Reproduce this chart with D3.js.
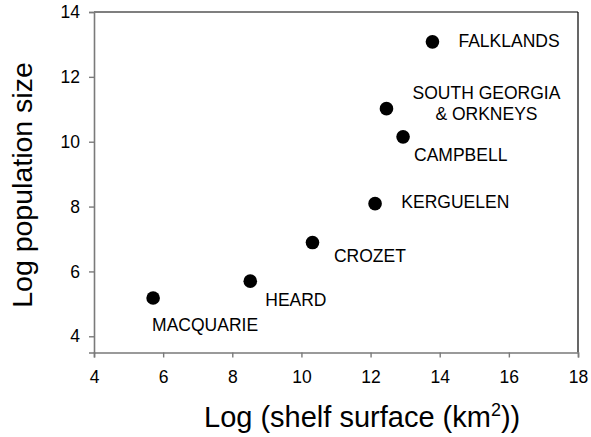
<!DOCTYPE html>
<html>
<head>
<meta charset="utf-8">
<script src="https://cdn.jsdelivr.net/npm/d3@7"></script>
<style>
  html, body { margin: 0; padding: 0; background: #fff; }
  svg { display: block; font-family: "Liberation Sans", Arial, sans-serif; }
</style>
</head>
<body>
<svg id="chart" width="591" height="437"></svg>
<script>
// ---- data ----
const sites = ["MACQUARIE", "HEARD", "CROZET", "KERGUELEN", "CAMPBELL", "SOUTH GEORGIA\n& ORKNEYS", "FALKLANDS"];
const shelfLog = [5.71, 8.52, 10.32, 12.13, 12.94, 12.46, 13.79];
const popLog = [5.18, 5.70, 6.89, 8.09, 10.15, 11.02, 13.08];
const xTicks = [4, 6, 8, 10, 12, 14, 16, 18];
const yTicks = [4, 6, 8, 10, 12, 14];

// ---- label layout (offsets from point, px) ----
const labelLayout = [
  {dx: -1, dy: 32.7, anchor: "start"},
  {dx: 15, dy: 24.7, anchor: "start"},
  {dx: 21.4, dy: 19.5, anchor: "start"},
  {dx: 26.3, dy: 4.5, anchor: "start"},
  {dx: 11, dy: 24, anchor: "start"},
  {dx: 100, dy: -9.4, anchor: "middle", lineGap: 20.7},
  {dx: 26, dy: 5.6, anchor: "start"}
];

const svg = d3.select("#chart");
const x = d3.scaleLinear().domain([4, 18]).range([94, 578]);
const y = d3.scaleLinear().domain([3.5, 14]).range([352.5, 12]);
const axisGray = "#7a7a7a";

// frame top & right
svg.append("line").attr("x1", x(4)).attr("x2", x(18)).attr("y1", y(14)).attr("y2", y(14))
  .attr("stroke", "#000").attr("stroke-width", 1.2);
svg.append("line").attr("x1", x(18)).attr("x2", x(18)).attr("y1", y(14)).attr("y2", y(3.5))
  .attr("stroke", "#000").attr("stroke-width", 1.2);

// axes
const xAxis = svg.append("g").attr("transform", `translate(0,${y(3.5)})`)
  .call(d3.axisBottom(x).tickValues(xTicks).tickSize(5).tickPadding(13).tickFormat(d3.format("d")));
const yAxis = svg.append("g").attr("transform", `translate(${x(4)},0)`)
  .call(d3.axisLeft(y).tickValues(yTicks).tickSize(5).tickPadding(9).tickFormat(d3.format("d")));
[xAxis, yAxis].forEach(g => {
  g.select(".domain").attr("stroke", axisGray).attr("stroke-width", 1.6);
  g.selectAll(".tick line").attr("stroke", axisGray).attr("stroke-width", 1.4);
  g.selectAll(".tick text").attr("fill", "#000").style("font-size", "17.5px")
    .style("font-family", "'Liberation Sans', Arial, sans-serif");
});

// points
svg.append("g").selectAll("circle").data(sites).join("circle")
  .attr("cx", (d, i) => x(shelfLog[i]))
  .attr("cy", (d, i) => y(popLog[i]))
  .attr("r", 6.8)
  .attr("fill", "#000");

// labels
const lab = svg.append("g").style("font-size", "17.5px").attr("fill", "#000");
sites.forEach((name, i) => {
  const L = labelLayout[i];
  const t = lab.append("text")
    .attr("x", x(shelfLog[i]) + L.dx)
    .attr("y", y(popLog[i]) + L.dy)
    .attr("text-anchor", L.anchor);
  name.split("\n").forEach((line, k) => {
    t.append("tspan").attr("x", x(shelfLog[i]) + L.dx)
      .attr("dy", k === 0 ? 0 : L.lineGap).text(line);
  });
});

// axis titles
const xt = svg.append("text").attr("x", 204).attr("y", 427).style("font-size", "29px").attr("fill", "#000");
xt.append("tspan").text("Log (shelf surface (km");
xt.append("tspan").attr("dy", -11).style("font-size", "18px").text("2");
xt.append("tspan").attr("dy", 11).text("))");

svg.append("text")
  .attr("transform", "translate(32,185) rotate(-90)")
  .attr("text-anchor", "middle")
  .style("font-size", "28.5px").attr("fill", "#000")
  .text("Log population size");
</script>
</body>
</html>
